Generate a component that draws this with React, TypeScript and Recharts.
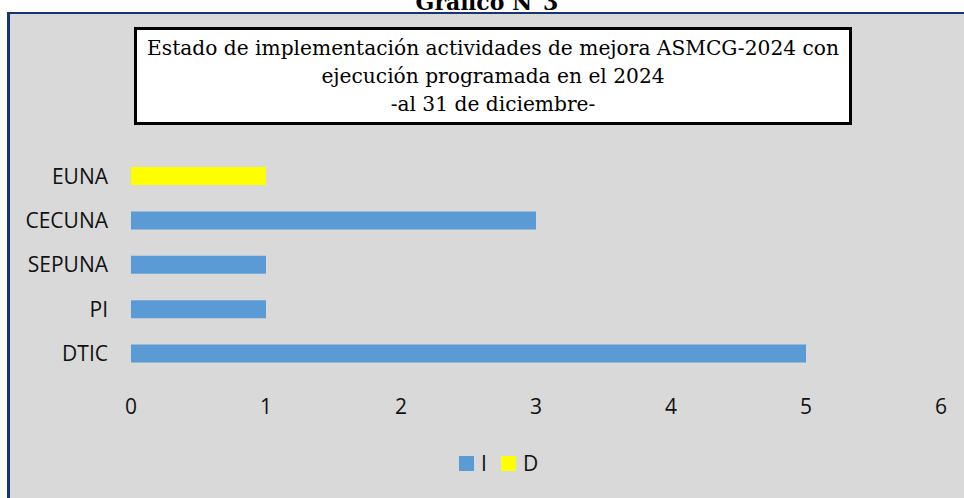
import React from 'react';
import { BarChart, Bar, XAxis, YAxis, Legend } from 'recharts';

const categories = ['EUNA', 'CECUNA', 'SEPUNA', 'PI', 'DTIC'];
const seriesI = [0, 3, 1, 1, 5];
const seriesD = [1, 0, 0, 0, 0];
const xTicks = [0, 1, 2, 3, 4, 5, 6];
const seriesNames = ['I', 'D'];
const seriesColors = ['#5b9bd5', '#ffff00'];

const titleTop = 'Gráfico N°3';
const titleLines = [
  'Estado de implementación actividades de mejora ASMCG-2024 con',
  'ejecución programada en el 2024',
  '-al 31 de diciembre-',
];

const data = categories.map((name, i) => ({ name, I: seriesI[i], D: seriesD[i] }));

const FONT = '"Open Sans", sans-serif';

const LegendContent = (props: any) => {
  const payload = [...(props.payload || [])].sort(
    (a: any, b: any) => seriesNames.indexOf(a.value) - seriesNames.indexOf(b.value)
  );
  return (
    <div style={{ display: 'flex', alignItems: 'center', marginLeft: 459, height: 16 }}>
      {payload.map((p: any, i: number) => (
        <div key={i} style={{ display: 'flex', alignItems: 'center', marginRight: 14 }}>
          <div style={{ width: 15, height: 15, background: p.color, marginRight: 7 }} />
          <span style={{ fontFamily: FONT, fontSize: 21, color: '#111', lineHeight: '16px' }}>{p.value}</span>
        </div>
      ))}
    </div>
  );
};

export default function App() {
  return (
    <div style={{ position: 'absolute', left: 0, top: 0, width: 964, height: 498, background: '#fff', overflow: 'hidden' }}>
      <div
        style={{
          position: 'absolute',
          left: -20,
          top: -9,
          width: 1004,
          textAlign: 'center',
          fontFamily: '"DejaVu Serif", serif',
          fontWeight: 'bold',
          fontSize: 22,
          lineHeight: '22px',
          color: '#000',
          whiteSpace: 'nowrap',
          paddingLeft: 10,
          boxSizing: 'border-box',
        }}
      >
        {titleTop}
      </div>
      <div
        style={{
          position: 'absolute',
          left: 7,
          top: 12,
          right: 0,
          bottom: 0,
          background: '#d9d9d9',
          borderLeft: '3px solid #17346e',
          borderTop: '2px solid #17346e',
        }}
      />
      <div style={{ position: 'absolute', left: 0, top: 0 }}>
        <BarChart
          width={964}
          height={498}
          data={data}
          layout="vertical"
          margin={{ top: 154, right: 23, bottom: 0, left: 0 }}
          barSize={18}
        >
          <XAxis
            type="number"
            domain={[0, 6]}
            ticks={xTicks}
            interval={0}
            axisLine={false}
            tickLine={false}
            tickSize={0}
            tickMargin={23}
            height={122}
            tick={{ fill: '#111', fontSize: 21, fontFamily: FONT }}
          />
          <YAxis
            type="category"
            dataKey="name"
            width={131}
            axisLine={false}
            tickLine={false}
            tickSize={0}
            tickMargin={23}
            interval={0}
            tick={{ fill: '#111', fontSize: 21, fontFamily: FONT }}
          />
          <Legend
            layout="horizontal"
            verticalAlign="middle"
            align="center"
            wrapperStyle={{ top: 455, left: 0, width: 964 }}
            content={<LegendContent />}
          />
          <Bar dataKey="I" name={seriesNames[0]} stackId="s" fill={seriesColors[0]} isAnimationActive={false} />
          <Bar dataKey="D" name={seriesNames[1]} stackId="s" fill={seriesColors[1]} isAnimationActive={false} />
        </BarChart>
      </div>
      <div
        style={{
          position: 'absolute',
          left: 134,
          top: 27,
          width: 718,
          height: 98,
          boxSizing: 'border-box',
          border: '3px solid #000',
          background: '#fff',
          paddingTop: 4,
          textAlign: 'center',
          fontFamily: '"DejaVu Serif", serif',
          fontSize: 20.2,
          lineHeight: '28px',
          color: '#000',
        }}
      >
        {titleLines.map((l, i) => (
          <div key={i} style={{ whiteSpace: 'nowrap' }}>{l}</div>
        ))}
      </div>
    </div>
  );
}
